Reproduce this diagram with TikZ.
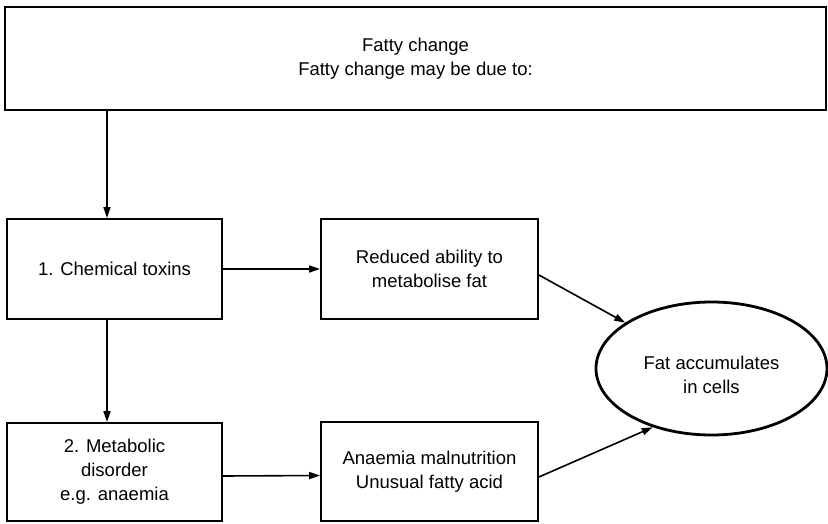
\documentclass[tikz,border=0pt]{standalone}
\usepackage{fontspec}
\setmainfont{Liberation Sans}
\usetikzlibrary{arrows.meta,shapes.geometric}
\begin{document}
\begin{tikzpicture}[x=1pt,y=-1pt,
  txt/.style={font=\fontsize{18.5}{24}\selectfont, align=center, inner sep=0pt},
  box/.style={txt, draw, line width=1.8pt, minimum width=#1, minimum height=100pt},
  box/.default=215pt,
  arr/.style={line width=1.6pt, -{Triangle[length=11pt,width=7pt]}}]
\useasboundingbox (0,0) rectangle (828,523);
\node[txt, draw, line width=2.8pt, minimum width=821pt, minimum height=103pt] (top) at (415.5,58.5)
  {Fatty change\\Fatty change may be due to:};
\node[box] (b1) at (114.5,269) {1. Chemical toxins};
\node[box=217pt] (b2) at (429.5,269) {Reduced ability to\\metabolise fat};
\node[box, minimum height=98pt] (b3) at (114.5,472) {2. Metabolic\\disorder\\e.g. anaemia};
\node[box=217pt, minimum height=99pt] (b4) at (429.5,471.5) {Anaemia malnutrition\\Unusual fatty acid};
\node[ellipse, draw, line width=2.8pt, minimum width=231pt, minimum height=133pt, inner sep=0pt] (e) at (711.5,368.5) {};
\node[txt] (et) at (711.5,375) {Fat accumulates\\in cells};
\draw[arr] ([xshift=-7.5pt]b1.north |- top.south) -- ([xshift=-7.5pt]b1.north);
\draw[arr] ([xshift=-7.5pt]b1.south) -- ([xshift=-7.5pt]b3.north);
\draw[arr] (b1.east) -- (b2.west);
\draw[arr] ([yshift=-4pt]b3.east) -- ([yshift=-4pt]b4.west);
\draw[arr] ([yshift=-6pt]b2.east) -- (e.152);
\draw[arr] ([yshift=-5.5pt]b4.east) -- (e.225);
\end{tikzpicture}
\end{document}
